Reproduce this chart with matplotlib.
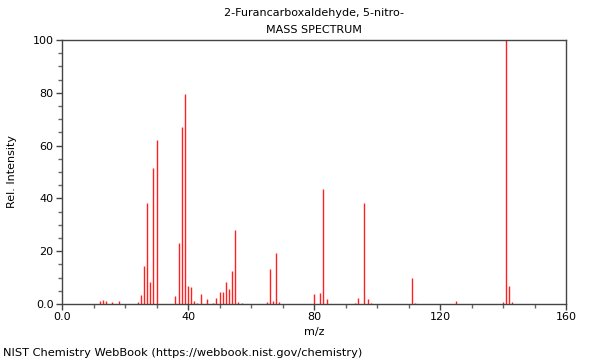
import matplotlib
matplotlib.use("Agg")
import matplotlib.pyplot as plt
from matplotlib.ticker import MultipleLocator, FixedLocator

mz = [12, 13, 14, 16, 18, 24, 25, 26, 27, 28, 29, 30, 36, 37, 38, 39, 40, 41,
      42, 43, 44, 46, 48, 49, 50, 51, 52, 53, 54, 55, 56, 57, 65, 66, 67, 68,
      69, 80, 82, 83, 84, 93, 94, 96, 97, 98, 111, 112, 125, 140, 141, 142, 143]
intensity = [1.0, 1.7, 1.0, 0.7, 1.0, 0.7, 3.3, 14.4, 38.4, 8.2, 51.4, 62.2,
             3.0, 23.0, 66.9, 79.5, 6.7, 6.4, 1.3, 0.5, 3.7, 1.9, 0.5, 2.1,
             4.5, 4.7, 8.3, 5.8, 12.5, 28.2, 0.8, 0.2, 0.8, 13.4, 1.2, 19.3,
             0.9, 3.7, 4.3, 43.5, 1.9, 0.5, 2.4, 38.4, 1.9, 0.3, 9.8, 0.4,
             1.0, 0.7, 100.0, 6.8, 0.8]
xticks = [0, 40, 80, 120, 160]
xticklabels = ["0.0", "40", "80", "120", "160"]
yticks = [0, 20, 40, 60, 80, 100]
yticklabels = ["0.0", "20", "40", "60", "80", "100"]

fig = plt.figure(figsize=(6, 3.6), dpi=100)
ax = fig.add_axes([62/600, 1-304/360, 504/600, 264/360])
ax.vlines(mz, 0, intensity, colors="#ff2020", linewidth=1.0)
ax.set_xlim(0, 160)
ax.set_ylim(0, 100)

ax.xaxis.set_major_locator(FixedLocator(xticks))
ax.set_xticklabels(xticklabels)
ax.xaxis.set_minor_locator(MultipleLocator(10))
ax.yaxis.set_major_locator(FixedLocator(yticks))
ax.set_yticklabels(yticklabels)
ax.yaxis.set_minor_locator(MultipleLocator(5))
ax.tick_params(which="major", length=4, width=1, labelsize=8, color="#444444", pad=2)
ax.tick_params(which="minor", length=3, width=1, color="#666666")
for s in ax.spines.values():
    s.set_color("#444444")
    s.set_linewidth(1)

ax.set_xlabel("m/z", fontsize=8, labelpad=3)
ax.set_ylabel("Rel. Intensity", fontsize=8, labelpad=11)
fig.text(314/600, 1-13/360, "2-Furancarboxaldehyde, 5-nitro-", ha="center", va="center", fontsize=8)
fig.text(314/600, 1-30/360, "MASS SPECTRUM", ha="center", va="center", fontsize=8)
fig.text(3/600, 1-353/360, "NIST Chemistry WebBook (https://webbook.nist.gov/chemistry)",
         ha="left", va="center", fontsize=8.2)
fig.savefig("out.png", dpi=100)
